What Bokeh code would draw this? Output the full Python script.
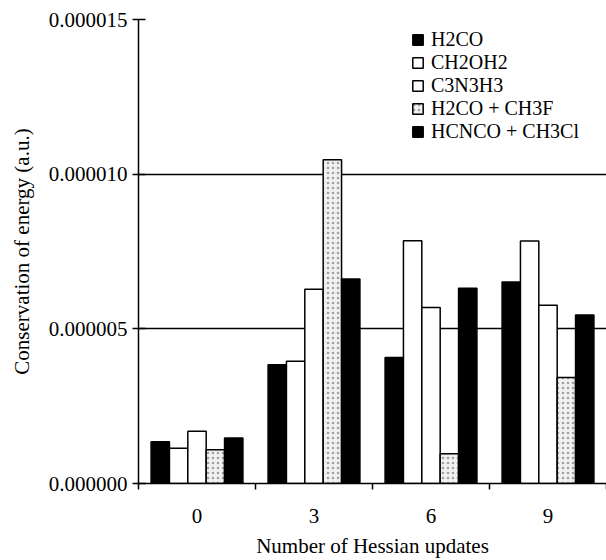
from bokeh.plotting import figure
from bokeh.models import (ColumnDataSource, FixedTicker, PrintfTickFormatter,
                          Range1d, Legend, LegendItem)
from bokeh.embed import file_html
from bokeh.resources import INLINE

updates = ["0", "3", "6", "9"]
series = ["H2CO", "CH2OH2", "C3N3H3", "H2CO + CH3F", "HCNCO + CH3Cl"]
h2co = [1.35e-6, 3.84e-6, 4.07e-6, 6.51e-6]
ch2oh2 = [1.14e-6, 3.95e-6, 7.85e-6, 7.84e-6]
c3n3h3 = [1.69e-6, 6.28e-6, 5.69e-6, 5.76e-6]
h2co_ch3f = [1.09e-6, 10.47e-6, 0.96e-6, 3.43e-6]
hcnco_ch3cl = [1.47e-6, 6.61e-6, 6.31e-6, 5.45e-6]
values = [h2co, ch2oh2, c3n3h3, h2co_ch3f, hcnco_ch3cl]

FONT = "Liberation Serif"

p = figure(width=606, height=560, output_backend="svg", toolbar_location=None,
           x_range=Range1d(-0.5, 3.5), y_range=Range1d(0, 15e-6),
           min_border_left=138, min_border_right=0, min_border_top=19,
           min_border_bottom=76)
p.outline_line_color = None
p.background_fill_color = "white"

styles = [
    dict(fill_color="black"),
    dict(fill_color="white"),
    dict(fill_color="white"),
    dict(fill_color="#f0f0f0", hatch_pattern="dot", hatch_color="#a0a0a0",
         hatch_scale=5, hatch_weight=1.5),
    dict(fill_color="black"),
]

w = 0.157
renderers = []
for i, (name, vals) in enumerate(zip(series, values)):
    xs = [j + (i - 2) * w for j in range(len(updates))]
    src = ColumnDataSource(dict(x=xs, top=vals))
    r = p.vbar(x="x", top="top", bottom=0, width=w, source=src,
               line_color="black", line_width=1.5, **styles[i])
    renderers.append(r)

legend = Legend(items=[LegendItem(label=s, renderers=[r]) for s, r in zip(series, renderers)],
                location=(273, 340), padding=0, margin=0, spacing=0,
                glyph_width=13, glyph_height=13, label_standoff=7,
                border_line_color=None, background_fill_alpha=0,
                label_text_font=FONT, label_text_font_size="20px",
                label_text_color="black", label_height=22)
p.add_layout(legend, "center")

# x axis
xa = p.xaxis[0]
xa.ticker = FixedTicker(ticks=[0, 1, 2, 3], minor_ticks=[-0.5, 0.5, 1.5, 2.5, 3.5])
xa.major_label_overrides = {i: u for i, u in enumerate(updates)}
xa.major_tick_out = 0
xa.major_tick_in = 0
xa.minor_tick_out = 6
xa.minor_tick_in = 0
xa.minor_tick_line_color = "black"
xa.minor_tick_line_width = 1.5
xa.axis_line_width = 1.5
xa.axis_line_color = "black"
xa.major_label_standoff = 19
xa.major_label_text_font = FONT
xa.major_label_text_font_size = "21px"
xa.major_label_text_color = "black"
xa.axis_label = "Number of Hessian updates"
xa.axis_label_text_font = FONT
xa.axis_label_text_font_size = "21px"
xa.axis_label_text_font_style = "normal"
xa.axis_label_text_color = "black"
xa.axis_label_standoff = 8

# y axis
ya = p.yaxis[0]
ya.ticker = FixedTicker(ticks=[0, 5e-6, 10e-6, 15e-6], minor_ticks=[])
ya.formatter = PrintfTickFormatter(format="%.6f")
ya.major_tick_in = 7
ya.major_tick_out = 6
ya.major_tick_line_width = 1.5
ya.major_tick_line_color = "black"
ya.axis_line_width = 1.5
ya.axis_line_color = "black"
ya.major_label_standoff = 5
ya.major_label_text_font = FONT
ya.major_label_text_font_size = "21px"
ya.major_label_text_color = "black"
ya.axis_label = "Conservation of energy (a.u.)"
ya.axis_label_text_font = FONT
ya.axis_label_text_font_size = "21px"
ya.axis_label_text_font_style = "normal"
ya.axis_label_text_color = "black"
ya.axis_label_standoff = 12

p.xgrid.grid_line_color = None
p.ygrid.ticker = FixedTicker(ticks=[5e-6, 10e-6, 15e-6])
p.ygrid.grid_line_color = "black"
p.ygrid.grid_line_width = 1.5

open("out.html", "w").write(file_html(p, INLINE))
